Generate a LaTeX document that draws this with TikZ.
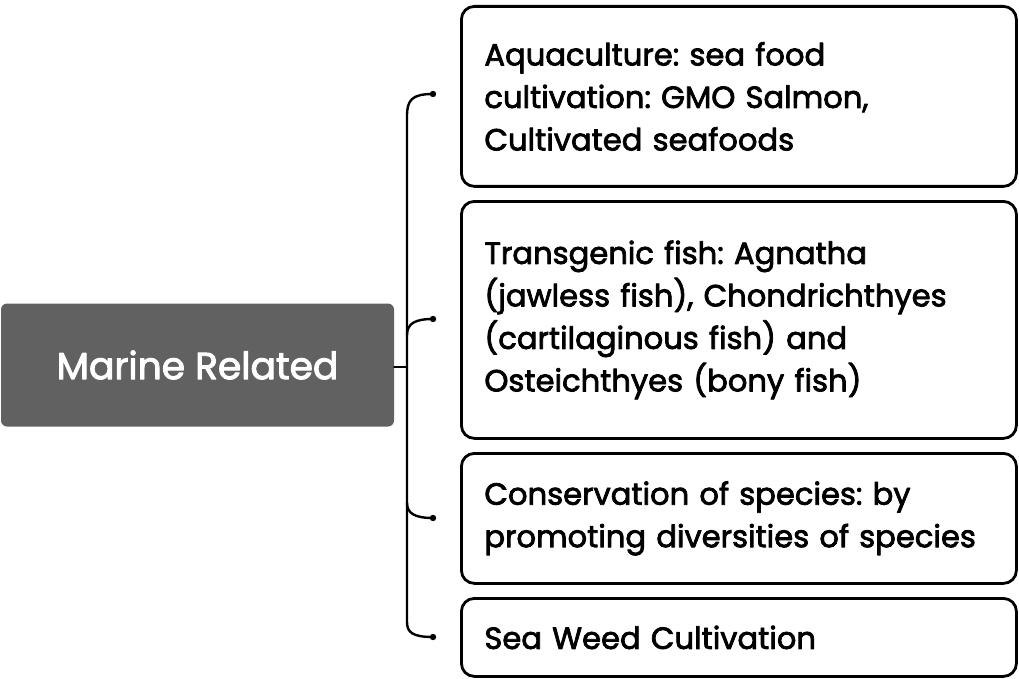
\documentclass[tikz,border=0pt]{standalone}
\usepackage{fontspec}
\setmainfont{Poppins}[BoldFont=Poppins,BoldFeatures={FakeBold=2.5}]
\frenchspacing
\begin{document}
\begin{tikzpicture}[x=1pt,y=-1pt,line join=round,line cap=round,font=\fontsize{30.6}{42.5}\selectfont\bfseries]
			\tikzset{
				mainbox/.style={fill=black!62,rounded corners=6pt,minimum width=393pt,minimum height=123pt,text=white,font=\fontsize{37.6}{40}\selectfont\bfseries},
				leafbox/.style={draw,line width=2.8pt,rounded corners=13pt,anchor=north west,minimum width=555pt,inner xsep=23pt,text width=509pt,align=left},
				hook/.style={line width=2.4pt}
			}
			\useasboundingbox (0,0) rectangle (1019,679);
			\node[mainbox] (marine) at (197.5,365) {Marine Related};
			\node[leafbox,minimum height=180pt] (aqua) at (460,5) {Aquaculture: sea food\\cultivation: GMO Salmon,\\Cultivated seafoods};
			\node[leafbox,minimum height=237pt] (fish) at (460,200) {Transgenic fish: Agnatha\\(jawless fish), Chondrichthyes\\(cartilaginous fish) and\\Osteichthyes (bony fish)};
			\node[leafbox,minimum height=130pt] (species) at (460,452) {Conservation of species: by\\promoting diversities of species};
			\node[leafbox,minimum height=78pt] (weed) at (460,597) {Sea Weed Cultivation};
			\coordinate (h1) at (433,94);
			\coordinate (h2) at (433,319);
			\coordinate (h3) at (433,518);
			\coordinate (h4) at (433,637);
			\coordinate (trunk) at (407,367);
			\draw[hook] (marine.east |- trunk) -- (trunk);
			\draw[hook] (h1) .. controls (412,94) and (407,100) .. (407,116) -- (407,622) .. controls (407,632) and (412,637) .. (h4);
			\draw[hook] (407,335) .. controls (407,323) and (416,319) .. (h2);
			\draw[hook] (407,503) .. controls (407,514) and (416,518) .. (h3);
			\foreach \h in {h1,h2,h3,h4}
				\fill (\h) circle(3.2pt);
		\end{tikzpicture}
\end{document}
